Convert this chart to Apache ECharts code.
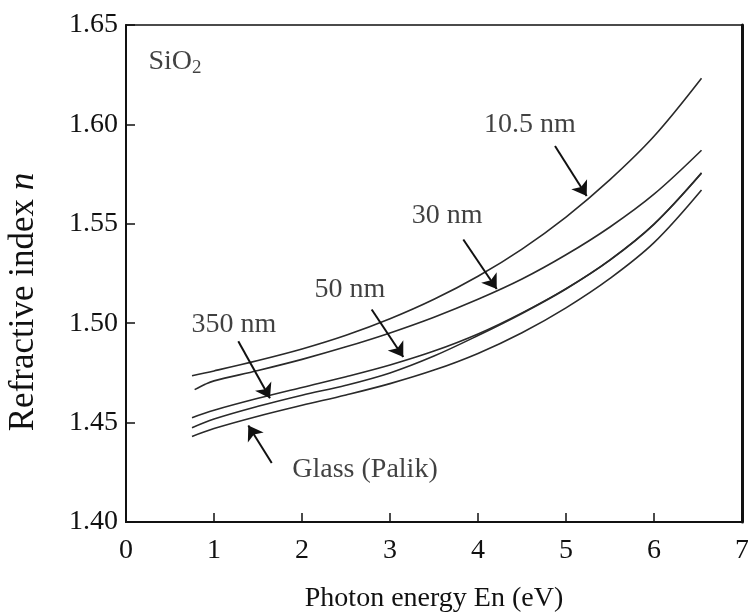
<!DOCTYPE html>
<html><head><meta charset="utf-8">
<script src="https://cdn.jsdelivr.net/npm/echarts@6/dist/echarts.min.js"></script>
<style>html,body{margin:0;padding:0;background:#fff}#c{width:748px;height:613px}</style>
</head><body><div id="c"></div>
<script>
// Photon energy (eV) sample points
const energy = [0.75, 1.0, 1.5, 2.0, 2.5, 3.0, 3.5, 4.0, 4.5, 5.0, 5.5, 6.0, 6.54];
const energy30 = [0.78, 0.9, 1.0, 1.5, 2.0, 2.5, 3.0, 3.5, 4.0, 4.5, 5.0, 5.5, 6.0, 6.54];
// Refractive index n per film thickness
const n10_5nm = [1.4736, 1.4760, 1.4812, 1.4870, 1.4939, 1.5022, 1.5120, 1.5236, 1.5373, 1.5534, 1.5722, 1.5940, 1.6232];
const n30nm   = [1.4666, 1.4693, 1.4710, 1.4762, 1.4818, 1.4881, 1.4951, 1.5030, 1.5120, 1.5222, 1.5344, 1.5484, 1.5649, 1.5870];
const n50nm   = [1.4525, 1.4562, 1.4622, 1.4677, 1.4731, 1.4790, 1.4860, 1.4946, 1.5052, 1.5174, 1.5319, 1.5499, 1.5757];
const n350nm  = [1.4474, 1.4518, 1.4582, 1.4638, 1.4688, 1.4750, 1.4835, 1.4938, 1.5049, 1.5172, 1.5317, 1.5497, 1.5754];
const nGlass  = [1.4430, 1.4470, 1.4532, 1.4587, 1.4639, 1.4696, 1.4764, 1.4848, 1.4952, 1.5077, 1.5225, 1.5405, 1.5670];
const seriesNames = ['10.5 nm', '30 nm', '50 nm', '350 nm', 'Glass (Palik)'];
const xTicks = [0, 1, 2, 3, 4, 5, 6, 7];
const yTicks = [1.40, 1.45, 1.50, 1.55, 1.60, 1.65];

// annotation layout (data coordinates)
const labelPos = [[4.59, 1.600], [3.65, 1.5539], [2.545, 1.517], [1.227, 1.4993], [2.716, 1.4264]];
const arrowPos = [
  [[4.875, 1.5891], [5.235, 1.5640]],
  [[3.833, 1.5421], [4.213, 1.5172]],
  [[2.792, 1.5069], [3.151, 1.4830]],
  [[1.276, 1.4909], [1.636, 1.4622]],
  [[1.656, 1.4297], [1.390, 1.4485]]
];

const FONT = '"Liberation Serif", "Times New Roman", serif';
const zip = (xs, ys) => xs.map((x, i) => [x, ys[i]]);
const curves = [
  zip(energy, n10_5nm), zip(energy30, n30nm), zip(energy, n50nm), zip(energy, n350nm), zip(energy, nGlass)
];

const chart = echarts.init(document.getElementById('c'), null, {renderer: 'canvas'});
const series = curves.map((d, i) => ({
  name: seriesNames[i], type: 'line', data: d, smooth: 0.35, showSymbol: false, symbol: 'none',
  lineStyle: {color: '#2a2a2a', width: 1.6}, silent: true, z: 3
}));
series.push({
  type: 'scatter', symbolSize: 0, silent: true, z: 5,
  data: labelPos.map((p, i) => ({value: p, name: seriesNames[i]})),
  label: {show: true, position: 'inside', formatter: '{b}', color: '#111', fontFamily: FONT, fontSize: 28}
});
series.push({
  type: 'line', data: [], silent: true, z: 6,
  itemStyle: {color: '#111'},
  markLine: {
    silent: true, symbol: ['none', 'arrow'], symbolSize: 14, animation: false,
    label: {show: false},
    itemStyle: {color: '#111'},
    lineStyle: {color: '#111', width: 2, type: 'solid'},
    data: arrowPos.map(a => [{coord: a[0]}, {coord: a[1]}])
  }
});
series.push({
  type: 'scatter', symbolSize: 0, silent: true,
  data: [{value: [0.557, 1.6317], name: 'SiO2'}],
  label: {show: true, position: 'inside', formatter: 'SiO{s|2}', color: '#111', fontFamily: FONT, fontSize: 28,
    rich: {s: {fontFamily: FONT, fontSize: 19, color: '#111', padding: [14, 0, 0, 0]}}}
});

chart.setOption({
  animation: false,
  backgroundColor: '#fff',
  grid: {left: 126, right: 6, top: 25, bottom: 91, show: true, borderColor: '#111', borderWidth: 1.5, containLabel: false, outerBoundsMode: 'none'},
  xAxis: {
    type: 'value', min: xTicks[0], max: xTicks[xTicks.length - 1], interval: 1,
    axisLine: {show: true, onZero: false, lineStyle: {color: '#111', width: 2}},
    axisTick: {show: true, inside: true, length: 9, lineStyle: {color: '#111', width: 1.5}},
    axisLabel: {color: '#111', fontFamily: FONT, fontSize: 28, margin: 15},
    splitLine: {show: false},
    name: 'Photon energy En (eV)', nameLocation: 'middle', nameGap: 63,
    nameTextStyle: {color: '#111', fontFamily: FONT, fontSize: 28}
  },
  yAxis: [{
    type: 'value', min: yTicks[0], max: yTicks[yTicks.length - 1], interval: 0.05,
    axisLine: {show: true, lineStyle: {color: '#111', width: 2}},
    axisTick: {show: true, inside: true, length: 9, lineStyle: {color: '#111', width: 1.5}},
    axisLabel: {color: '#111', fontFamily: FONT, fontSize: 28, margin: 8, formatter: v => v.toFixed(2)},
    splitLine: {show: false}
  }, {
    type: 'value', position: 'right', min: yTicks[0], max: yTicks[yTicks.length - 1],
    axisLine: {show: true, lineStyle: {color: '#111', width: 3}},
    axisTick: {show: false}, axisLabel: {show: false}, splitLine: {show: false}
  }],
  graphic: [{
    type: 'text', rotation: Math.PI / 2,
    x: 24, y: 302,
    style: {text: 'Refractive index {i|n}', fontFamily: FONT, fontSize: 35, fill: '#111', align: 'center', verticalAlign: 'middle',
      rich: {i: {fontFamily: FONT, fontSize: 35, fontStyle: 'italic', fill: '#111'}}}
  }],
  series: series
});
</script></body></html>
